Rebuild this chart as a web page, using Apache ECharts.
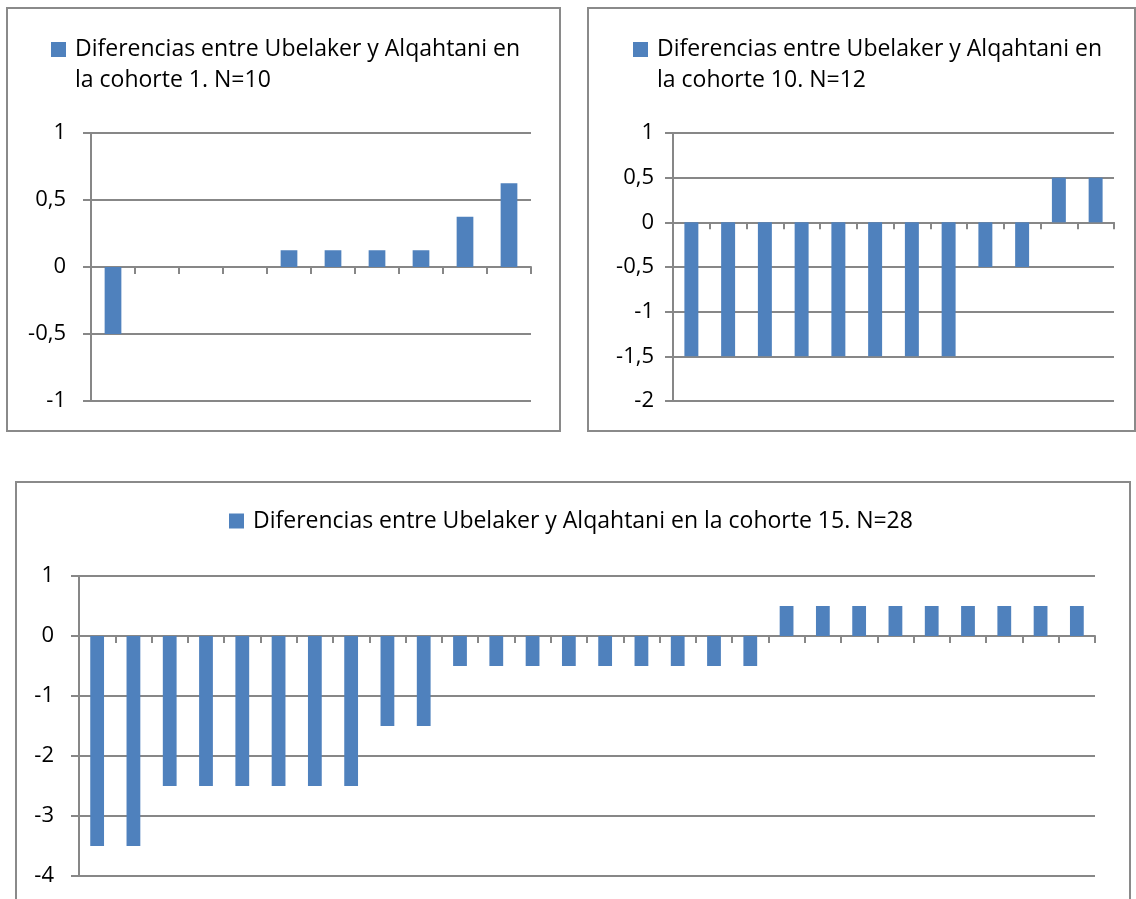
<!DOCTYPE html>
<html>
<head>
<meta charset="utf-8">
<script src="https://cdn.jsdelivr.net/npm/echarts@6/dist/echarts.min.js"></script>
<style>
  html, body { margin: 0; padding: 0; background: #ffffff; }
  #chart { width: 1136px; height: 899px; }
</style>
</head>
<body>
<div id="chart"></div>
<script>
// Series names (one per cohort)
const seriesName1 = 'Diferencias entre Ubelaker y Alqahtani en la cohorte 1. N=10';
const seriesName10 = 'Diferencias entre Ubelaker y Alqahtani en la cohorte 10. N=12';
const seriesName15 = 'Diferencias entre Ubelaker y Alqahtani en la cohorte 15. N=28';

// Cases in each cohort
const casos1 = ['1', '2', '3', '4', '5', '6', '7', '8', '9', '10'];
const casos10 = ['1', '2', '3', '4', '5', '6', '7', '8', '9', '10', '11', '12'];
const casos15 = ['1', '2', '3', '4', '5', '6', '7', '8', '9', '10', '11', '12', '13', '14',
                 '15', '16', '17', '18', '19', '20', '21', '22', '23', '24', '25', '26', '27', '28'];

// Differences (Ubelaker - Alqahtani), sorted
const diferencias1 = [-0.5, 0, 0, 0, 0.125, 0.125, 0.125, 0.125, 0.375, 0.625];
const diferencias10 = [-1.5, -1.5, -1.5, -1.5, -1.5, -1.5, -1.5, -1.5, -0.5, -0.5, 0.5, 0.5];
const diferencias15 = [-3.5, -3.5, -2.5, -2.5, -2.5, -2.5, -2.5, -2.5, -1.5, -1.5,
                       -0.5, -0.5, -0.5, -0.5, -0.5, -0.5, -0.5, -0.5, -0.5,
                       0.5, 0.5, 0.5, 0.5, 0.5, 0.5, 0.5, 0.5, 0.5];

// Value-axis tick labels
const ticks1 = [-1, -0.5, 0, 0.5, 1];
const ticks10 = [-2, -1.5, -1, -0.5, 0, 0.5, 1];
const ticks15 = [-4, -3, -2, -1, 0, 1];

const FONT = '"Open Sans", "Noto Sans", sans-serif';
const BAR = '#4F81BD';
const GRID_LINE = '#878787';
const LINE_W = 2;
const LEGEND_FS = 23;
const LEGEND_LH = 31;
const AXIS_FS = 22;

const chart = echarts.init(document.getElementById('chart'), null, { renderer: 'canvas' });

function xAxisFor(gridIndex, cats) {
  return {
    type: 'category', gridIndex: gridIndex, data: cats,
    axisLine: { onZero: true, lineStyle: { color: GRID_LINE, width: LINE_W } },
    axisTick: { show: true, length: 7, lineStyle: { color: GRID_LINE, width: LINE_W } },
    axisLabel: { show: false },
    splitLine: { show: false }
  };
}

function yAxisFor(gridIndex, ticks, margin) {
  return {
    type: 'value', gridIndex: gridIndex,
    min: ticks[0], max: ticks[ticks.length - 1], interval: ticks[1] - ticks[0],
    axisLine: { show: true, lineStyle: { color: GRID_LINE, width: LINE_W } },
    axisTick: { show: true, length: 8, lineStyle: { color: GRID_LINE, width: LINE_W } },
    axisLabel: {
      margin: margin, color: '#000', fontSize: AXIS_FS, fontFamily: FONT,
      formatter: v => String(v).replace('.', ',')
    },
    splitLine: { show: true, lineStyle: { color: GRID_LINE, width: LINE_W } }
  };
}

// Two-line legend: a leading empty line keeps the key square beside the first line
function legendFor(name, left, top, twoLines) {
  return {
    data: [name], left: left, top: top, padding: 0,
    icon: 'rect', itemWidth: 15, itemHeight: 15, selectedMode: false,
    formatter: twoLines ? (n => '\n' + n.replace(' la cohorte', '\nla cohorte')) : undefined,
    textStyle: {
      color: '#000', fontSize: LEGEND_FS, fontFamily: FONT,
      lineHeight: twoLines ? LEGEND_LH : 24,
      padding: [0, 0, 0, 4]
    }
  };
}

function barSeries(name, idx, data) {
  return {
    name: name, type: 'bar', xAxisIndex: idx, yAxisIndex: idx, data: data,
    barCategoryGap: '62%',
    itemStyle: { color: BAR },
    silent: true
  };
}

chart.setOption({
  backgroundColor: '#ffffff',
  animation: false,
  color: [BAR],
  graphic: [
    { type: 'rect', shape: { x: 7, y: 8, width: 553, height: 423 },
      style: { fill: 'none', stroke: '#8a8a8a', lineWidth: 2 }, silent: true },
    { type: 'rect', shape: { x: 588, y: 8, width: 547, height: 423 },
      style: { fill: 'none', stroke: '#8a8a8a', lineWidth: 2 }, silent: true },
    { type: 'rect', shape: { x: 16, y: 482, width: 1114, height: 440 },
      style: { fill: 'none', stroke: '#8a8a8a', lineWidth: 2 }, silent: true }
  ],
  legend: [
    legendFor(seriesName1, 51, 3, true),
    legendFor(seriesName10, 633, 3, true),
    legendFor(seriesName15, 229, 509, false)
  ],
  grid: [
    { left: 91, top: 133, width: 440, height: 268 },
    { left: 673, top: 133, width: 441, height: 268 },
    { left: 79, top: 576, width: 1016, height: 300 }
  ],
  xAxis: [xAxisFor(0, casos1), xAxisFor(1, casos10), xAxisFor(2, casos15)],
  yAxis: [yAxisFor(0, ticks1, 25), yAxisFor(1, ticks10, 19), yAxisFor(2, ticks15, 25)],
  series: [
    barSeries(seriesName1, 0, diferencias1),
    barSeries(seriesName10, 1, diferencias10),
    barSeries(seriesName15, 2, diferencias15)
  ]
});
</script>
</body>
</html>
